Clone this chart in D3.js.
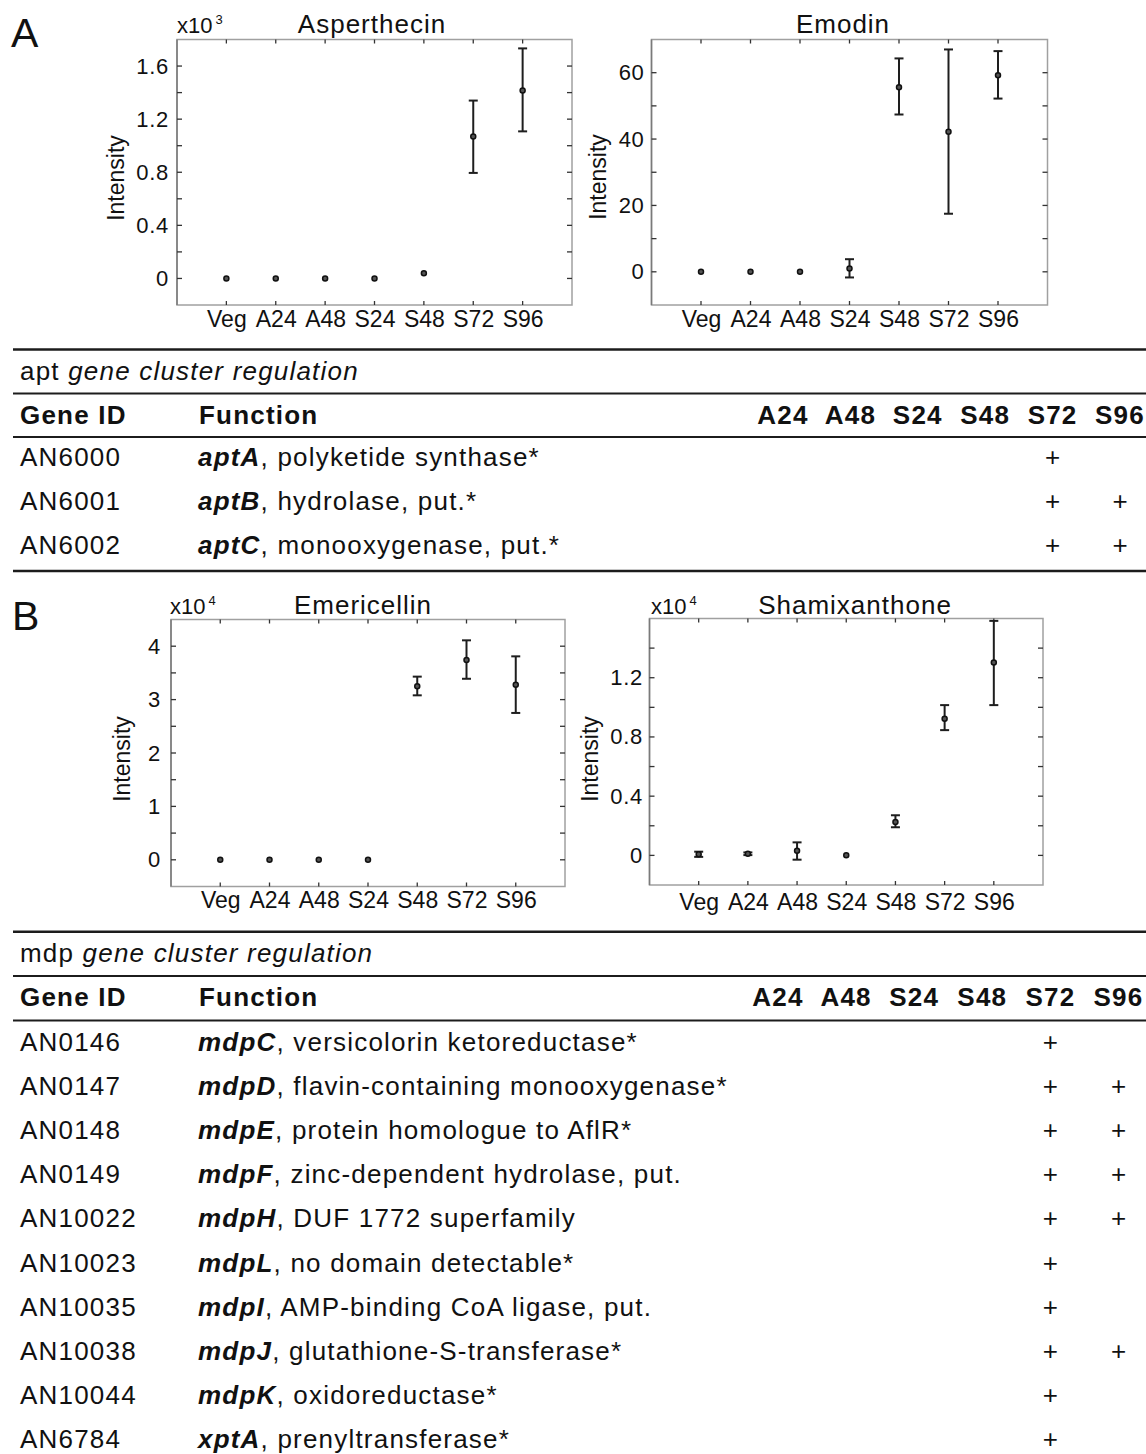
<!DOCTYPE html>
<html>
<head>
<meta charset="utf-8">
<script src="https://cdn.jsdelivr.net/npm/d3@7"></script>
<style>
  html, body { margin: 0; padding: 0; background: #fff; }
  svg text { font-family: "Liberation Sans", Arial, Helvetica, sans-serif; fill: #111; }
</style>
</head>
<body>
<svg id="fig" width="1146" height="1454"></svg>
<script>
// ---------- data ----------
const stages = ["Veg", "A24", "A48", "S24", "S48", "S72", "S96"];

// Asperthecin intensity (x10^3): mean, lower and upper error bounds
const asperMean = [0, 0, 0, 0, 0.04, 1.07, 1.415];
const asperLow  = [null, null, null, null, null, 0.795, 1.108];
const asperHigh = [null, null, null, null, null, 1.34, 1.733];

// Emodin intensity
const emodinMean = [0, 0, 0, 1.0, 55.6, 42.2, 59.2];
const emodinLow  = [null, null, null, -1.7, 47.4, 17.5, 52.2];
const emodinHigh = [null, null, null, 3.8, 64.3, 67.0, 66.5];

// Emericellin intensity (x10^4)
const emerMean = [0, 0, 0, 0, 3.25, 3.74, 3.28];
const emerLow  = [null, null, null, null, 3.08, 3.39, 2.75];
const emerHigh = [null, null, null, null, 3.43, 4.11, 3.81];

// Shamixanthone intensity (x10^4)
const shamMean = [0.008, 0.011, 0.032, 0.001, 0.226, 0.923, 1.302];
const shamLow  = [-0.01, 0.002, -0.029, null, 0.19, 0.846, 1.015];
const shamHigh = [0.025, 0.02, 0.088, null, 0.271, 1.015, 1.584];

// y tick labels per panel
const asperTicks  = [0, 0.4, 0.8, 1.2, 1.6];
const emodinTicks = [0, 20, 40, 60];
const emerTicks   = [0, 1, 2, 3, 4];
const shamTicks   = [0, 0.4, 0.8, 1.2];

// table columns
const tableStages = ["A24", "A48", "S24", "S48", "S72", "S96"];

// apt gene cluster
const aptIds   = ["AN6000", "AN6001", "AN6002"];
const aptGenes = ["aptA", "aptB", "aptC"];
const aptFuncs = [", polyketide synthase*", ", hydrolase, put.*", ", monooxygenase, put.*"];
const aptUp    = [["S72"], ["S72", "S96"], ["S72", "S96"]];

// mdp gene cluster
const mdpIds   = ["AN0146", "AN0147", "AN0148", "AN0149", "AN10022", "AN10023", "AN10035", "AN10038", "AN10044", "AN6784"];
const mdpGenes = ["mdpC", "mdpD", "mdpE", "mdpF", "mdpH", "mdpL", "mdpI", "mdpJ", "mdpK", "xptA"];
const mdpFuncs = [", versicolorin ketoreductase*", ", flavin-containing monooxygenase*", ", protein homologue to AflR*",
                  ", zinc-dependent hydrolase, put.", ", DUF 1772 superfamily", ", no domain detectable*",
                  ", AMP-binding CoA ligase, put.", ", glutathione-S-transferase*", ", oxidoreductase*", ", prenyltransferase*"];
const mdpUp    = [["S72"], ["S72", "S96"], ["S72", "S96"], ["S72", "S96"], ["S72", "S96"], ["S72"], ["S72"], ["S72", "S96"], ["S72"], ["S72"]];

// ---------- drawing ----------
const svg = d3.select("#fig");
svg.append("rect").attr("width", 1146).attr("height", 1454).attr("fill", "#fff");

function drawPanel(c) {
  const x = d3.scaleLinear().domain([0, stages.length + 1]).range([c.x0, c.x1]);
  const y = d3.scaleLinear().domain(c.domain).range([c.y1, c.y0]);
  const g = svg.append("g");

  // frame
  g.append("rect")
    .attr("x", c.x0).attr("y", c.y0)
    .attr("width", c.x1 - c.x0).attr("height", c.y1 - c.y0)
    .attr("fill", "none").attr("stroke", "#a0a0a0").attr("stroke-width", 1.5);
  g.append("line").attr("x1", c.x0).attr("x2", c.x0).attr("y1", c.y0).attr("y2", c.y1)
    .attr("stroke", "#7a7a7a").attr("stroke-width", 1.5);

  // inward minor ticks on left and right
  const nMinor = Math.round((c.domain[1] - c.domain[0]) / c.minorStep);
  const minor = d3.range(1, nMinor).map(i => c.domain[0] + i * c.minorStep);
  const tk = g.append("g").attr("stroke", "#333").attr("stroke-width", 1.3);
  minor.forEach(v => {
    tk.append("line").attr("x1", c.x0).attr("x2", c.x0 + 5).attr("y1", y(v)).attr("y2", y(v));
    tk.append("line").attr("x1", c.x1 - 5).attr("x2", c.x1).attr("y1", y(v)).attr("y2", y(v));
  });
  // inward category ticks on top and bottom
  d3.range(1, stages.length + 1).forEach(i => {
    tk.append("line").attr("x1", x(i)).attr("x2", x(i)).attr("y1", c.y0).attr("y2", c.y0 + 4);
    tk.append("line").attr("x1", x(i)).attr("x2", x(i)).attr("y1", c.y1 - 4).attr("y2", c.y1);
  });

  // y tick labels
  const ya = g.append("g").attr("transform", `translate(${c.x0},0)`)
    .call(d3.axisLeft(y).tickValues(c.ticks).tickSize(0).tickPadding(c.yPad).tickFormat(c.fmt));
  ya.select(".domain").remove();
  ya.selectAll("text").attr("font-size", 22).attr("fill", "#111")
    .style("font-family", '"Liberation Sans", Arial, sans-serif').style("letter-spacing", "0.7px");

  // x category labels
  const xa = g.append("g").attr("transform", `translate(0,${c.y1})`)
    .call(d3.axisBottom(x).tickValues(d3.range(1, stages.length + 1)).tickSize(0)
      .tickPadding(c.xPad).tickFormat(i => stages[i - 1]));
  xa.select(".domain").remove();
  xa.selectAll("text").attr("font-size", 23).attr("fill", "#111")
    .style("font-family", '"Liberation Sans", Arial, sans-serif');

  // error bars
  const eb = g.append("g").attr("stroke", "#1e1e1e").attr("stroke-width", 2);
  c.mean.forEach((m, i) => {
    if (c.low[i] === null) return;
    const cx = x(i + 1), yl = y(c.low[i]), yh = y(c.high[i]);
    eb.append("line").attr("x1", cx).attr("x2", cx).attr("y1", yl).attr("y2", yh);
    eb.append("line").attr("x1", cx - 4.5).attr("x2", cx + 4.5).attr("y1", yl).attr("y2", yl);
    eb.append("line").attr("x1", cx - 4.5).attr("x2", cx + 4.5).attr("y1", yh).attr("y2", yh);
  });

  // mean markers
  g.append("g").selectAll("circle").data(c.mean).join("circle")
    .attr("cx", (d, i) => x(i + 1)).attr("cy", d => y(d)).attr("r", 2.5)
    .attr("fill", "#555").attr("stroke", "#111").attr("stroke-width", 1.5);

  // y axis title
  g.append("text").attr("transform", `translate(${c.labelX},${c.labelY}) rotate(-90)`)
    .attr("text-anchor", "middle").attr("font-size", 23).text("Intensity");

  // panel title
  g.append("text").attr("x", c.titleX).attr("y", c.titleY).attr("text-anchor", "middle")
    .attr("font-size", 26).style("letter-spacing", "1px").text(c.title);

  // exponent note
  if (c.exp) {
    const t = g.append("text").attr("x", c.expX).attr("y", c.titleY).attr("font-size", 22).text("x10");
    t.append("tspan").attr("dx", 3).attr("dy", -9).attr("font-size", 13).text(c.exp);
  }
}

const fmtDec = d => d === 0 ? "0" : d3.format(".1f")(d);
const fmtInt = d3.format("d");

drawPanel({ x0: 177, x1: 572, y0: 39.5, y1: 305, domain: [-0.2, 1.8], minorStep: 0.2,
  ticks: asperTicks, fmt: fmtDec, yPad: 8, xPad: 6,
  mean: asperMean, low: asperLow, high: asperHigh,
  labelX: 124, labelY: 178, title: "Asperthecin", titleX: 372, titleY: 33, exp: "3", expX: 177 });

drawPanel({ x0: 651.5, x1: 1047.5, y0: 39.5, y1: 305, domain: [-10, 70], minorStep: 10,
  ticks: emodinTicks, fmt: fmtInt, yPad: 7, xPad: 6,
  mean: emodinMean, low: emodinLow, high: emodinHigh,
  labelX: 605.5, labelY: 177, title: "Emodin", titleX: 843, titleY: 33, exp: null });

drawPanel({ x0: 171, x1: 565, y0: 619.5, y1: 886.5, domain: [-0.5, 4.5], minorStep: 0.5,
  ticks: emerTicks, fmt: fmtInt, yPad: 10, xPad: 5,
  mean: emerMean, low: emerLow, high: emerHigh,
  labelX: 129.5, labelY: 759, title: "Emericellin", titleX: 363, titleY: 614, exp: "4", expX: 170 });

drawPanel({ x0: 649.5, x1: 1043, y0: 618.5, y1: 885, domain: [-0.2, 1.6], minorStep: 0.2,
  ticks: shamTicks, fmt: fmtDec, yPad: 6.5, xPad: 8.5,
  mean: shamMean, low: shamLow, high: shamHigh,
  labelX: 597.5, labelY: 759, title: "Shamixanthone", titleX: 855, titleY: 614, exp: "4", expX: 651 });

// panel letters
svg.append("text").attr("x", 11).attr("y", 47).attr("font-size", 41).text("A");
svg.append("text").attr("x", 12).attr("y", 630).attr("font-size", 41).text("B");

// ---------- tables ----------
function drawTable(t) {
  const g = svg.append("g").style("letter-spacing", "1.2px");
  const rule = (yy, w) => g.append("line").attr("x1", 13).attr("x2", 1146)
    .attr("y1", yy).attr("y2", yy).attr("stroke", "#1c1c1c").attr("stroke-width", w);
  rule(t.rules[0], 2.6); rule(t.rules[1], 2); rule(t.rules[2], 2);
  if (t.rules[3] !== undefined) rule(t.rules[3], 2.6);

  const sub = g.append("text").attr("x", 20).attr("y", t.subY).attr("font-size", 26);
  sub.append("tspan").text(t.prefix + " ");
  sub.append("tspan").attr("font-style", "italic").text("gene cluster regulation");

  g.append("text").attr("x", 20).attr("y", t.headY).attr("font-size", 26).attr("font-weight", "bold").text("Gene ID");
  g.append("text").attr("x", 199).attr("y", t.headY).attr("font-size", 26).attr("font-weight", "bold").text("Function");

  const col = d3.scalePoint().domain(tableStages).range(t.colRange);
  g.selectAll("text.stage").data(tableStages).join("text").attr("class", "stage")
    .attr("x", d => col(d)).attr("y", t.headY).attr("text-anchor", "middle")
    .attr("font-size", 26).attr("font-weight", "bold").text(d => d);

  const rowY = i => t.rowY0 + i * t.rowStep;
  t.ids.forEach((id, i) => {
    g.append("text").attr("x", 20).attr("y", rowY(i)).attr("font-size", 26).text(id);
    const f = g.append("text").attr("x", 198).attr("y", rowY(i)).attr("font-size", 26);
    f.append("tspan").attr("font-weight", "bold").attr("font-style", "italic").text(t.genes[i]);
    f.append("tspan").text(t.funcs[i]);
    t.up[i].forEach(s => {
      g.append("text").attr("x", col(s)).attr("y", rowY(i)).attr("text-anchor", "middle")
        .attr("font-size", 26).style("letter-spacing", "0px").text("+");
    });
  });
}

drawTable({ rules: [349.5, 393.5, 437, 571], subY: 380, headY: 423.5, prefix: "apt",
  colRange: [783, 1120], rowY0: 466, rowStep: 44,
  ids: aptIds, genes: aptGenes, funcs: aptFuncs, up: aptUp });

drawTable({ rules: [931.7, 976, 1020.5], subY: 961.5, headY: 1006, prefix: "mdp",
  colRange: [778, 1118.5], rowY0: 1051, rowStep: 44.1,
  ids: mdpIds, genes: mdpGenes, funcs: mdpFuncs, up: mdpUp });
</script>
</body>
</html>
